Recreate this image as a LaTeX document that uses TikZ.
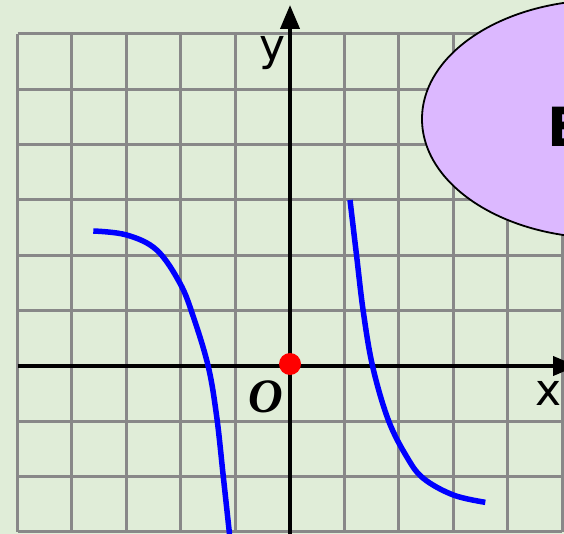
\documentclass[tikz,border=0pt]{standalone}
\usepackage{fontspec}
\setmainfont{DejaVu Sans}
\newfontfamily\serifbi{Liberation Serif}
\usetikzlibrary{arrows.meta,shapes.geometric}
\definecolor{bgc}{HTML}{E0EDD8}
\definecolor{gridc}{HTML}{888888}
\definecolor{ellc}{HTML}{DCB8FF}
\begin{document}
\begin{tikzpicture}[x=1pt,y=-1pt,
  gridline/.style={draw=gridc,line width=3pt},
  axisline/.style={draw=black,line width=4pt,-{Triangle[length=24pt,width=19pt]}},
  curve/.style={draw=blue,line width=5.5pt},
  lbl/.style={inner sep=0pt,font=\fontsize{44}{48}\selectfont},
]
\fill[bgc] (0,0) rectangle (564,534);
\useasboundingbox (0,0) rectangle (564,534);
% grid
\foreach \i in {0,...,10} {
  \draw[gridline] ({17.5+54.45*\i},34) -- ({17.5+54.45*\i},532);
}
\foreach \j in {0,...,9} {
  \draw[gridline] (17.5,{34+55.33*\j}) -- (562,{34+55.33*\j});
}
% ellipse
\node[ellipse,draw=black,line width=1.8pt,fill=ellc,minimum width=364pt,minimum height=238pt,inner sep=0pt] (ell) at (604,119) {};
\node[anchor=base west,inner sep=0pt,font=\fontsize{54}{58}\selectfont\bfseries] (etext) at (547,147) {E};
% axes
\coordinate (xs) at (17.5,366);
\coordinate (xe) at (577,366);
\coordinate (ys) at (290,534);
\coordinate (ye) at (290,5);
\draw[axisline] (xs) -- (xe);
\draw[axisline] (ys) -- (ye);
% curves
\draw[curve] plot[smooth,tension=0.6] coordinates {(93.3,231) (126.7,235) (156.7,250) (180,283.3) (193.3,316.7) (208.3,366.7) (216.7,416.7) (223.3,476.7) (229.5,534)};
\draw[curve] plot[smooth,tension=0.6] coordinates {(350,200) (356.7,256.7) (363.3,311.7) (372.7,366.7) (388.3,420) (406.7,456.7) (423.3,478.3) (453.3,495) (485.3,502.3)};
% origin dot
\fill[red] (290,364) circle[radius=11pt];
\node (origin) at (290,364) {};
% labels
\node[lbl,anchor=base] (ylab) at (272.5,61) {y};
\node[lbl,anchor=base] (xlab) at (548.5,405) {x};
\node[inner sep=0pt,anchor=base,font=\serifbi\fontsize{48}{52}\selectfont\bfseries\itshape] (olab) at (266,412) {O};
\end{tikzpicture}
\end{document}
